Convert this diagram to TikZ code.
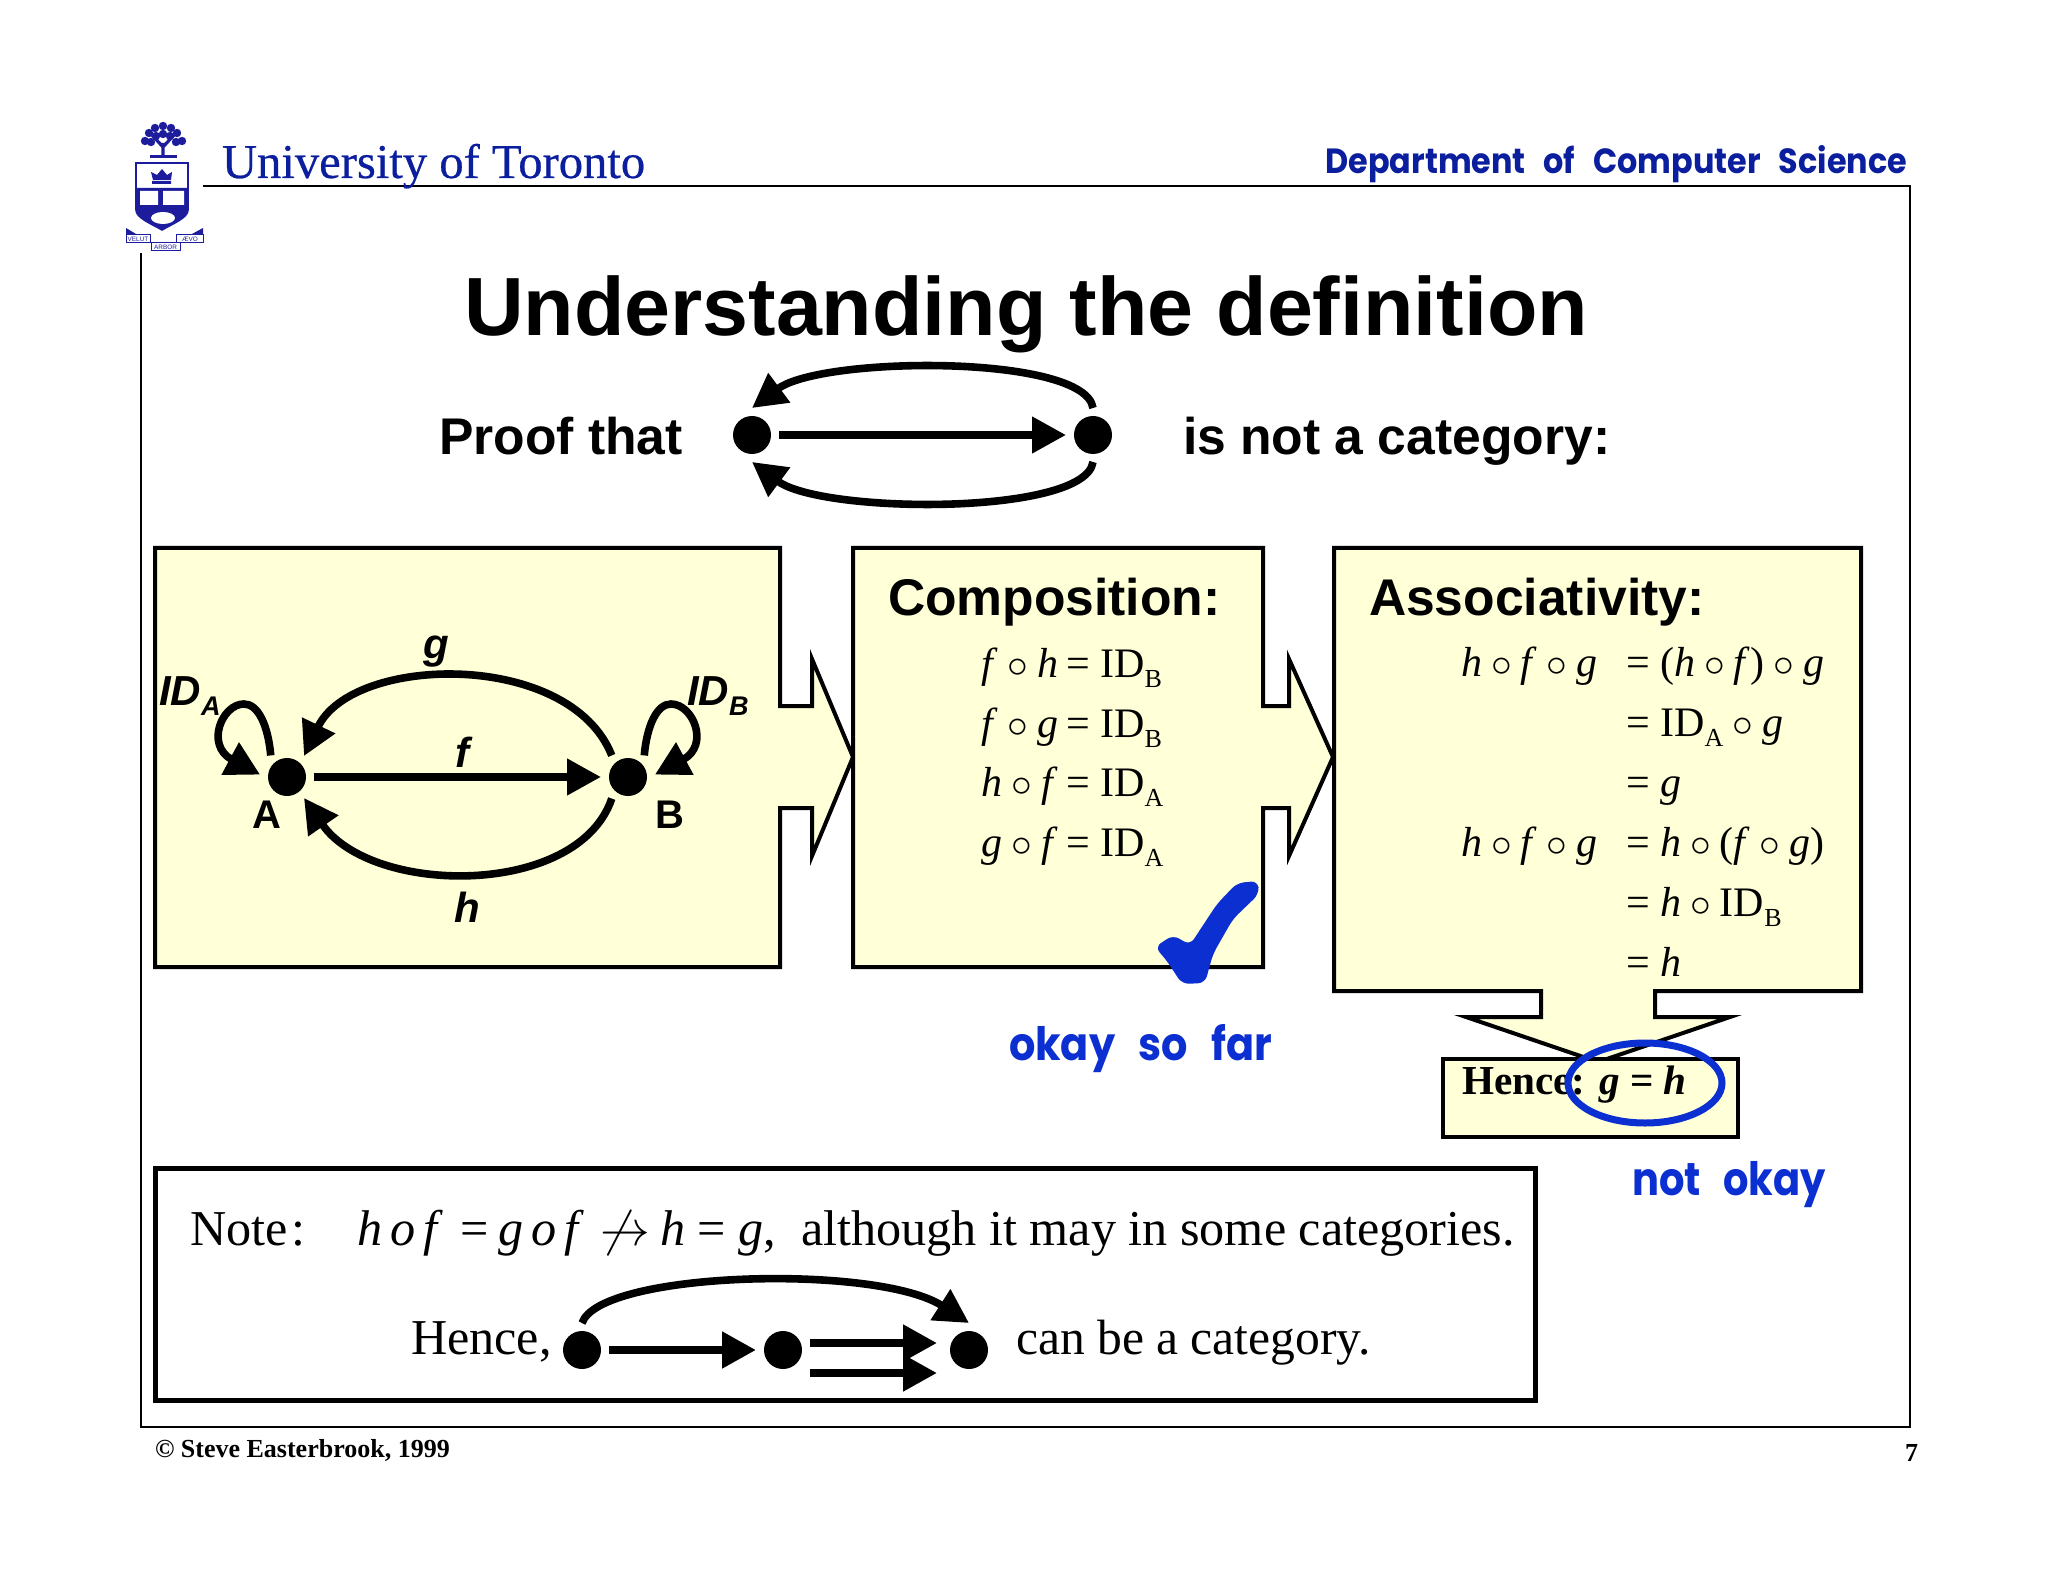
\documentclass[tikz,border=0pt]{standalone}
\usepackage{fontspec}
\setmainfont{Liberation Serif}
\setsansfont{Liberation Sans}
\newfontfamily\handfont[WordSpace=2.65]{Poppins}
\newfontfamily\unifont[FakeBold=0.5]{Liberation Serif}
\usetikzlibrary{arrows.meta, positioning}
\definecolor{crestblue}{HTML}{1C1C9C}
\definecolor{headblue}{HTML}{0A1E9E}
\definecolor{handblue}{HTML}{0B2FD0}
\definecolor{panelyellow}{HTML}{FFFFD8}
\newcommand{\ital}[1]{\textit{#1}}
\newcommand{\cmp}{\kern4.5pt$\circ$\kern4.5pt}
\newcommand{\idsub}[1]{ID\raisebox{-5pt}{\fontsize{13}{13}\selectfont #1}}
\newcommand{\idlabel}[1]{ID\raisebox{-5pt}{\fontsize{13.5}{13.5}\selectfont #1}}
\tikzset{
    txt/.style={inner sep=0pt, outer sep=0pt, anchor=base west},
    titletext/.style={txt, font=\sffamily\bfseries\fontsize{41.3}{41.3}\selectfont},
    headtext/.style={txt, font=\sffamily\bfseries\fontsize{25.8}{25.8}\selectfont},
    labeltext/.style={txt, anchor=base, font=\sffamily\bfseries\itshape\fontsize{21}{21}\selectfont},
    nodetext/.style={txt, anchor=base, font=\sffamily\bfseries\fontsize{20}{20}\selectfont},
    eqtext/.style={txt, font=\rmfamily\fontsize{21}{21}\selectfont},
    notetext/.style={txt, font=\rmfamily\fontsize{25.1}{25.1}\selectfont},
    footertext/.style={txt, font=\rmfamily\bfseries\fontsize{13}{13}\selectfont},
    handtext/.style={txt, text=handblue, font=\handfont\bfseries},
    crestword/.style={inner sep=0pt, text=crestblue, font=\sffamily\fontsize{3.2}{3.2}\selectfont},
    dotnode/.style={circle, fill=black, inner sep=0pt, minimum size=19pt, outer sep=4pt},
    panel/.style={draw=black, fill=panelyellow, line width=2pt},
    edgearrow/.style={line width=3.8pt, -{Stealth[length=17pt,width=17.5pt,inset=0pt]}},
}
\begin{document}
\begin{tikzpicture}[x=0.5pt,y=-0.5pt]
\useasboundingbox (0,0) rectangle (2048,1582);

\draw[line width=1.3pt] (203,186) -- (1910,186) -- (1910,1427) -- (141,1427) -- (141,253);
\node[txt, text=headblue, font=\unifont\fontsize{24.3}{24.3}\selectfont] (univ) at (222,178) {University of Toronto};
\node[txt, anchor=base east, text=headblue, font=\handfont\bfseries] (dept) at (1907,174) {\scalebox{0.91}[1]{\fontsize{17.5}{17.5}\selectfont Department of Computer Science}};

\begin{scope}[crestblue]
\draw[line width=1.5pt] (150,157) -- (177,157);
\draw[line width=1.6pt] (163,157) -- (163,143) (163,147) -- (152,135) (163,147) -- (174,135);
\foreach \cx/\cy in {145/141,149/133,155/128,163/126,171/128,177/133,182/141,156/136,170/136,163/134,151/142,176/142}
    \fill (\cx,\cy) circle (2.1pt);
\draw[line width=0.8pt, fill=white] (136,163) -- (188,163) -- (188,210) .. controls (188,218) and (172,224) .. (162,230) .. controls (152,224) and (136,218) .. (136,210) -- cycle;
\fill (136,188) -- (188,188) -- (188,210) .. controls (188,218) and (172,224) .. (162,230) .. controls (152,224) and (136,218) .. (136,210) -- cycle;
\fill[white] (140,191) rectangle (158,205) (163,191) rectangle (184,205) (163,218) ellipse (6pt and 3pt);
\fill (152,181) rectangle (171,184) (153,180) -- (151,172) -- (157,175) -- (162,169) -- (167,175) -- (172,172) -- (171,180) -- cycle;
\draw[line width=0.5pt, fill=white] (126,235) rectangle (150,243) (176,235) rectangle (203,243) (151,243) rectangle (180,251);
\fill (126,235) -- (126,228) -- (136,234) -- cycle (203,235) -- (203,228) -- (192,234) -- cycle;
\end{scope}
\node[crestword] (velut) at (138,239) {VELUT};
\node[crestword] (aevo) at (190,239) {ÆVO};
\node[crestword] (arbor) at (165.5,247) {ARBOR};

\node[titletext] (title) at (464,336) {Understanding the definition};
\node[headtext] (proof) at (439,455) {Proof that};
\node[headtext] (notcat) at (1183,455) {is not a category:};

\node[dotnode] (p) at (752,435) {};
\node[dotnode] (q) at (1093,435) {};
\draw[edgearrow] (p) -- (q);
\draw[edgearrow] (q.90) .. controls (1085,354) and (822,356) .. (p.90);
\draw[edgearrow] (q.-90) .. controls (1085,516) and (822,514) .. (p.-90);

\draw[panel] (155,548) -- (780,548) -- (780,706) -- (812,706) -- (812,659) -- (853,757) -- (812,856) -- (812,808) -- (780,808) -- (780,967) -- (155,967) -- cycle;
\draw[panel] (853,548) -- (1263,548) -- (1263,706) -- (1289,706) -- (1289,659) -- (1333,757) -- (1289,856) -- (1289,808) -- (1263,808) -- (1263,967) -- (853,967) -- cycle;
\draw[panel] (1334,548) -- (1861,548) -- (1861,991) -- (1655,991) -- (1655,1017) -- (1730,1017) -- (1598,1062) -- (1466,1017) -- (1541,1017) -- (1541,991) -- (1334,991) -- cycle;
\draw[panel] (1443,1059) rectangle (1738,1137);

\node[dotnode] (A) at (287,777) {};
\node[dotnode] (B) at (628,777) {};
\draw[edgearrow] (A) -- (B);
\draw[edgearrow] (B.127) .. controls (570,650) and (353,654) .. (A.51);
\draw[edgearrow] (B.-127) .. controls (578,898) and (372,896) .. (A.-51);
\draw[edgearrow] (A.127) .. controls (268,725) and (258,704) .. (244,704) .. controls (222,704) and (205,745) .. (A.175);
\draw[edgearrow] (B.53) .. controls (647,725) and (657,704) .. (671,704) .. controls (693,704) and (710,745) .. (B.5);
\node[labeltext] (gl) at (436,658) {g};
\node[labeltext] (fl) at (462,767) {f};
\node[labeltext] (hl) at (467,922) {h};
\node[nodetext] (Al) at (267,828) {A};
\node[nodetext] (Bl) at (670,828) {B};
\node[labeltext, anchor=base west] (ida) at (159,705) {\idlabel{A}};
\node[labeltext, anchor=base west] (idb) at (687,705) {\idlabel{B}};

\node[headtext] (comp) at (888,615) {Composition:};
\foreach \lhs/\rhs/\y in {\ital{f}\cmp\ital{h}/B/677, \ital{f}\cmp\ital{g}/B/737, \ital{h}\cmp\ital{f}/A/796, \ital{g}\cmp\ital{f}/A/856} {
    \node[eqtext, anchor=base east] at (1058,\y) {\lhs};
    \node[eqtext] at (1066,\y) {= \idsub{\rhs}};
}
\fill[handblue, rounded corners=3.5pt] (1258,881) -- (1237,883) -- (1217,904) -- (1190,945) -- (1173,935) -- (1155,947) -- (1167,961) -- (1182,984) -- (1205,983) -- (1213,954) -- (1233,919) -- (1259,894) -- cycle;
\node[handtext] (far) at (1009,1060) {\scalebox{0.9}[1]{\fontsize{23}{23}\selectfont okay so far}};

\node[headtext] (assoc) at (1369,615) {Associativity:};
\foreach \rhs/\y in {= (\ital{h}\cmp\ital{f})\cmp\ital{g}/676, = \idsub{A}\cmp\ital{g}/736, = \ital{g}/796, = \ital{h}\cmp(\ital{f}\cmp\ital{g})/856, = \ital{h}\cmp\idsub{B}/916, = \ital{h}/976} {
    \node[eqtext] at (1626,\y) {\rhs};
}
\foreach \y in {676,856} {
    \node[eqtext, anchor=base east] at (1597,\y) {\ital{h}\cmp\ital{f}\cmp\ital{g}};
}

\node[txt, font=\rmfamily\bfseries\fontsize{20.6}{20.6}\selectfont] (hence) at (1462,1094) {Hence: \textit{g} = \textit{h}};
\draw[handblue, line width=3.5pt] (1645,1083) ellipse (38.5pt and 20pt);
\node[handtext] (notok) at (1632,1195) {\scalebox{0.87}[1]{\fontsize{23}{23}\selectfont not okay}};

\draw[line width=2.5pt] (155,1168) rectangle (1535,1400);
\node[notetext] (note) at (190,1245) {Note\kern2pt:};
\node[notetext] (hof) at (357,1245) {\ital{h}\,\ital{o}\,\ital{f}};
\node[notetext] (eqa) at (460,1245) {=};
\node[notetext] (gof) at (498,1245) {\ital{g}\,\ital{o}\,\ital{f}};
\node[notetext] (naa) at (600,1245) {\fontsize{25}{25}\selectfont$\not\rightarrow$};
\node[notetext] (hh) at (660,1245) {\ital{h}};
\node[notetext] (eqb) at (697,1245) {=};
\node[notetext] (gg) at (738,1245) {\ital{g},};
\node[notetext] (although) at (801,1245) {although it may in some categories.};
\node[notetext] (hencetwo) at (411,1354) {Hence,};
\node[notetext, font=\rmfamily\fontsize{24.8}{24.8}\selectfont] (canbe) at (1016,1354) {can be a category.};

\node[dotnode] (x) at (582,1350) {};
\node[dotnode] (y) at (783,1350) {};
\node[dotnode] (z) at (969,1350) {};
\draw[edgearrow, line width=4pt] (x) -- (y);
\draw[edgearrow, line width=4pt] ([yshift=3.5pt]y.east) -- ([yshift=3.5pt,xshift=-2.5pt]z.west);
\draw[edgearrow, line width=4pt] ([yshift=-11.5pt]y.east) -- ([yshift=-11.5pt,xshift=-2.5pt]z.west);
\draw[edgearrow, line width=3.8pt] (x.90) .. controls (600,1271) and (877,1264) .. (z.90);

\node[footertext] (copy) at (155,1457) {© Steve Easterbrook, 1999};
\node[footertext] (pageno) at (1905,1461) {7};
\end{tikzpicture}
\end{document}
